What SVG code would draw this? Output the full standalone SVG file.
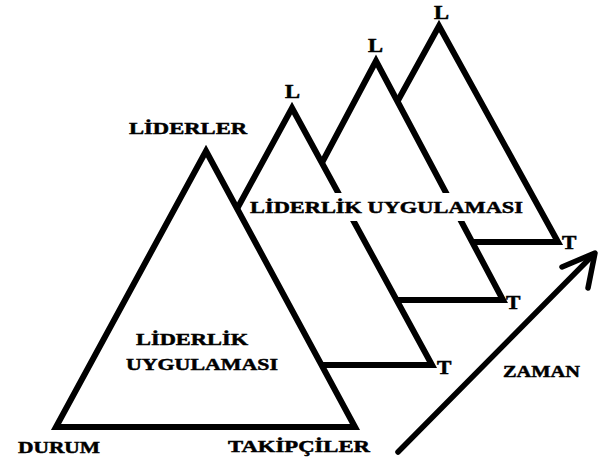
<svg xmlns="http://www.w3.org/2000/svg" width="600" height="465" viewBox="0 0 600 465">
<style>
.tri{fill:#fff;stroke:#000;stroke-width:6;stroke-linejoin:miter;stroke-miterlimit:4}
.lbl{font-family:"Liberation Serif","Times New Roman",serif;font-weight:bold;font-size:17px;fill:#000;stroke:#000;stroke-width:0.5}
.sm{font-size:18px}
.arr{fill:none;stroke:#000;stroke-width:5.5;stroke-linecap:round;stroke-linejoin:round}
</style>
<rect width="600" height="465" fill="#fff"/>
<g id="tri4"><polygon class="tri" points="439,26 558,242 320,242"/><text class="lbl sm" transform="translate(434,19) scale(1.25,1)">L</text><text class="lbl sm" transform="translate(562,249) scale(1.2,1)">T</text></g>
<g id="tri3"><polygon class="tri" points="376,61 503,300 249,300"/><text class="lbl sm" transform="translate(368,52) scale(1.25,1)">L</text><text class="lbl sm" transform="translate(506,309) scale(1.2,1)">T</text></g>
<g id="tri2"><polygon class="tri" points="292,108 432,365 152,365"/><text class="lbl sm" transform="translate(285,98) scale(1.25,1)">L</text><text class="lbl sm" transform="translate(437,374) scale(1.2,1)">T</text></g>
<g id="practice-label"><rect x="250" y="193" width="277" height="28" fill="#fff"/><text class="lbl" transform="translate(250,213) scale(1.3,1)" textLength="210" lengthAdjust="spacingAndGlyphs">LİDERLİK UYGULAMASI</text></g>
<g id="tri1"><polygon class="tri" points="206,151 355,427 56,427"/>
<text class="lbl" transform="translate(136,345) scale(1.3,1)" textLength="86.2" lengthAdjust="spacingAndGlyphs">LİDERLİK</text>
<text class="lbl" transform="translate(126,370) scale(1.3,1)" textLength="116.9" lengthAdjust="spacingAndGlyphs">UYGULAMASI</text></g>
<g id="leaders"><text class="lbl" transform="translate(129,134) scale(1.3,1)" textLength="90.8" lengthAdjust="spacingAndGlyphs">LİDERLER</text></g>
<g id="situation"><text class="lbl" transform="translate(18,453) scale(1.3,1)" textLength="63.1" lengthAdjust="spacingAndGlyphs">DURUM</text></g>
<g id="followers"><text class="lbl" transform="translate(228,452) scale(1.3,1)" textLength="109.2" lengthAdjust="spacingAndGlyphs">TAKİPÇİLER</text></g>
<g id="connectors"><line class="arr" x1="398" y1="452" x2="593" y2="255"/><polyline class="arr" points="562,267 595,253 588,288"/></g>
<g id="time"><text class="lbl" transform="translate(503,377) scale(1.3,1)" textLength="59.2" lengthAdjust="spacingAndGlyphs">ZAMAN</text></g>
</svg>
